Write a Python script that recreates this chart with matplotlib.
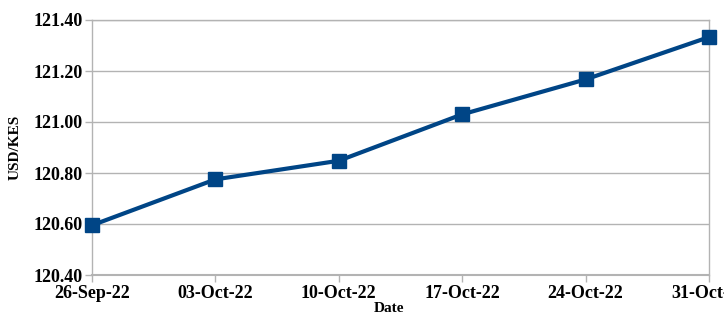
import matplotlib
matplotlib.use("Agg")
import matplotlib.pyplot as plt
import matplotlib.dates as mdates
import datetime as dt

dates = ["2022-09-26", "2022-10-03", "2022-10-10", "2022-10-17", "2022-10-24", "2022-10-31"]
rates = [120.595, 120.775, 120.848, 121.03, 121.167, 121.333]
y_ticks = [120.40, 120.60, 120.80, 121.00, 121.20, 121.40]

x = [dt.datetime.strptime(d, "%Y-%m-%d") for d in dates]

plt.rcParams['font.family'] = ['Liberation Serif', 'DejaVu Serif']

fig = plt.figure(figsize=(7.24, 3.22), dpi=100)
ax = fig.add_axes([92/724, 1 - 275/322, (709-92)/724, (275-20)/322])

color = '#004586'
ax.plot(x, rates, color=color, linewidth=3, marker='s', markersize=10, zorder=3, clip_on=False)

ax.set_ylim(120.40, 121.40)
ax.set_yticks(y_ticks)
ax.set_yticklabels([f"{v:.2f}" for v in y_ticks], fontsize=13, fontweight='bold')
ax.set_xlim(x[0], x[-1])
ax.set_xticks(x)
ax.xaxis.set_major_formatter(mdates.DateFormatter('%d-%b-%y'))
for lab in ax.get_xticklabels():
    lab.set_fontsize(13)
    lab.set_fontweight('bold')

ax.grid(axis='y', color='#b3b3b3', linewidth=1)
for s in ax.spines.values():
    s.set_color('#b3b3b3')
    s.set_linewidth(1)
ax.spines['bottom'].set_linewidth(1.5)
ax.tick_params(axis='both', color='#b3b3b3', length=5, width=1, pad=2)

ax.set_xlabel('Date', fontsize=11, fontweight='bold')
ax.xaxis.set_label_coords((389 - 92) / 617, -(308 - 275) / 255, transform=ax.transAxes)
ax.xaxis.label.set_va('center')
ax.set_ylabel('USD/KES', fontsize=11, fontweight='bold', labelpad=8)

fig.savefig('out.png', dpi=100)
